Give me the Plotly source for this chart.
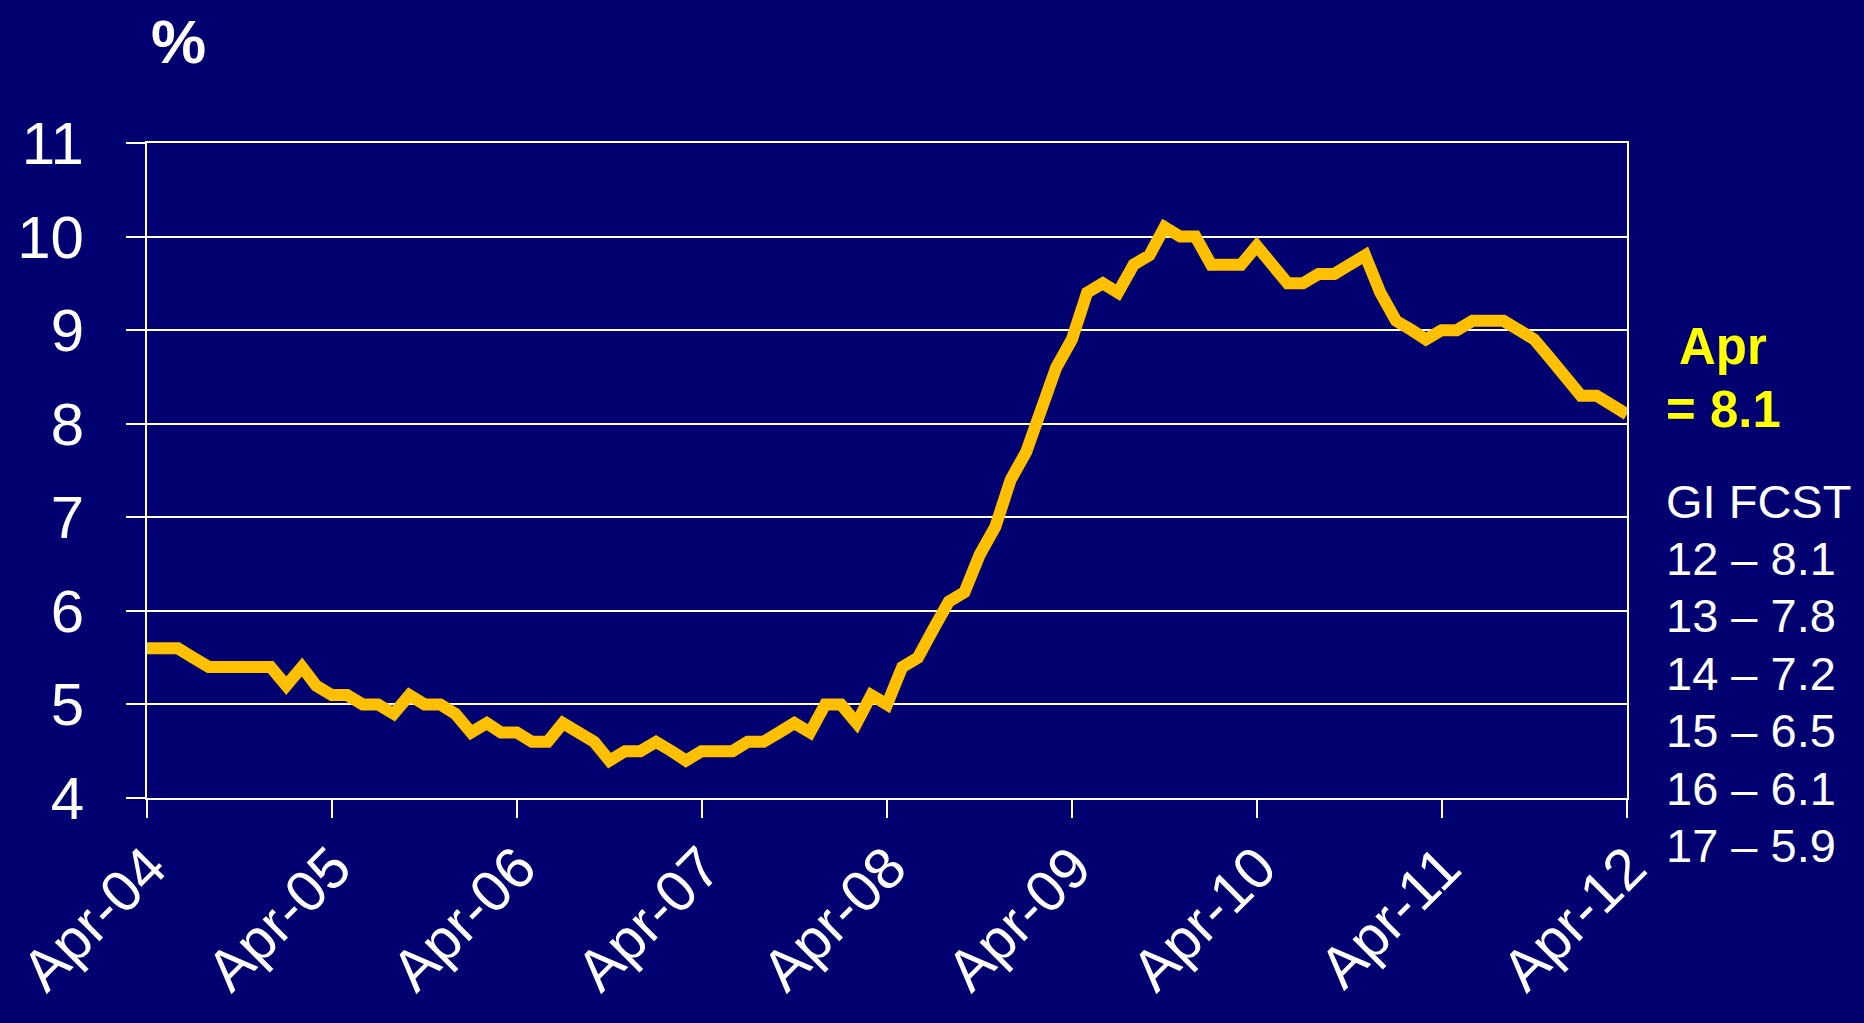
import pandas as pd
import plotly.graph_objects as go

# monthly unemployment rate, Apr-2004 .. Apr-2012
months = pd.date_range("2004-04-01", "2012-04-01", freq="MS")
rate = [
    5.6, 5.6, 5.6, 5.5, 5.4, 5.4, 5.4, 5.4, 5.4, 5.2, 5.4, 5.2,   # Apr04-Mar05
    5.1, 5.1, 5.0, 5.0, 4.9, 5.1, 5.0, 5.0, 4.9, 4.7, 4.8, 4.7,   # Apr05-Mar06
    4.7, 4.6, 4.6, 4.8, 4.7, 4.6, 4.4, 4.5, 4.5, 4.6, 4.5, 4.4,   # Apr06-Mar07
    4.5, 4.5, 4.5, 4.6, 4.6, 4.7, 4.8, 4.7, 5.0, 5.0, 4.8, 5.1,   # Apr07-Mar08
    5.0, 5.4, 5.5, 5.8, 6.1, 6.2, 6.6, 6.9, 7.4, 7.7, 8.2, 8.6,   # Apr08-Mar09
    8.9, 9.4, 9.5, 9.4, 9.7, 9.8, 10.1, 10.0, 10.0, 9.7, 9.7, 9.7,  # Apr09-Mar10
    9.9, 9.7, 9.5, 9.5, 9.6, 9.6, 9.7, 9.8, 9.4, 9.1, 9.0, 8.9,   # Apr10-Mar11
    9.0, 9.0, 9.1, 9.1, 9.1, 9.0, 8.9, 8.7, 8.5, 8.3, 8.3, 8.2,   # Apr11-Mar12
    8.1,                                                          # Apr12
]

tick_dates = pd.date_range("2004-04-01", "2012-04-01", freq="12MS")
tick_labels = ["Apr-04", "Apr-05", "Apr-06", "Apr-07", "Apr-08",
               "Apr-09", "Apr-10", "Apr-11", "Apr-12"]
y_ticks = [4, 5, 6, 7, 8, 9, 10, 11]

latest_lines = ["Apr", "= 8.1"]
forecast_lines = ["GI FCST", "12 \u2013 8.1", "13 \u2013 7.8", "14 \u2013 7.2",
                  "15 \u2013 6.5", "16 \u2013 6.1", "17 \u2013 5.9"]

BG = "#000070"
FONT = "Liberation Sans, Arial, sans-serif"

W, H = 1864, 1023
L, R, T, B = 147, 1627, 143, 798   # plot area edges in pixels


def px(xp, yp):
    # pixel position -> paper coordinates
    return (xp - L) / (R - L), (B - yp) / (B - T)


fig = go.Figure()
fig.add_trace(go.Scatter(
    x=months, y=rate, mode="lines",
    line=dict(color="#FFC000", width=12),
    hoverinfo="x+y", showlegend=False,
))

annotations = []
ax, ay = px(178, 42)
annotations.append(dict(text="<b>%</b>", x=ax, y=ay, xref="paper", yref="paper",
                        xanchor="center", yanchor="middle", showarrow=False,
                        font=dict(size=62, color="white", family=FONT)))
for i, t in enumerate(latest_lines):
    ax, ay = px(1723, [346, 409][i])
    annotations.append(dict(text=f"<b>{t}</b>", x=ax, y=ay, xref="paper", yref="paper",
                            xanchor="center", yanchor="middle", showarrow=False,
                            font=dict(size=51, color="#FFFF00", family=FONT)))
for i, t in enumerate(forecast_lines):
    ax, ay = px(1664, 501 + 57.4 * i)
    annotations.append(dict(text=t, x=ax, y=ay, xref="paper", yref="paper",
                            xanchor="left", yanchor="middle", showarrow=False,
                            font=dict(size=47, color="white", family=FONT)))

fig.update_layout(
    width=W, height=H,
    margin=dict(l=L, r=W - R, t=T, b=H - B),
    paper_bgcolor=BG, plot_bgcolor=BG,
    font=dict(family=FONT, color="white", size=60),
    annotations=annotations,
    xaxis=dict(
        range=[months[0], months[-1]],
        tickvals=tick_dates, ticktext=tick_labels, tickangle=-45,
        showgrid=False, showline=True, linecolor="white", linewidth=2,
        mirror=True, ticks="outside", ticklen=18, tickwidth=2, tickcolor="white",
        tickfont=dict(size=58, color="white", family=FONT),
        ticklabelstandoff=-8, ticklabelshift=2,
        automargin=False, ticklabeloverflow="allow",
        zeroline=False, fixedrange=True,
    ),
    yaxis=dict(
        range=[4, 11], tickvals=y_ticks,
        showgrid=True, gridcolor="white", gridwidth=2,
        showline=True, linecolor="white", linewidth=2, mirror=True,
        ticks="outside", ticklen=19, tickwidth=2, tickcolor="white",
        tickfont=dict(size=60, color="white", family=FONT),
        ticklabelstandoff=30, automargin=False,
        zeroline=False, fixedrange=True,
    ),
)

fig.write_html(
    "out.html",
    config={"displayModeBar": False},
    post_script="document.body.style.margin='0';"
                "document.body.style.background='%s';" % BG,
)
